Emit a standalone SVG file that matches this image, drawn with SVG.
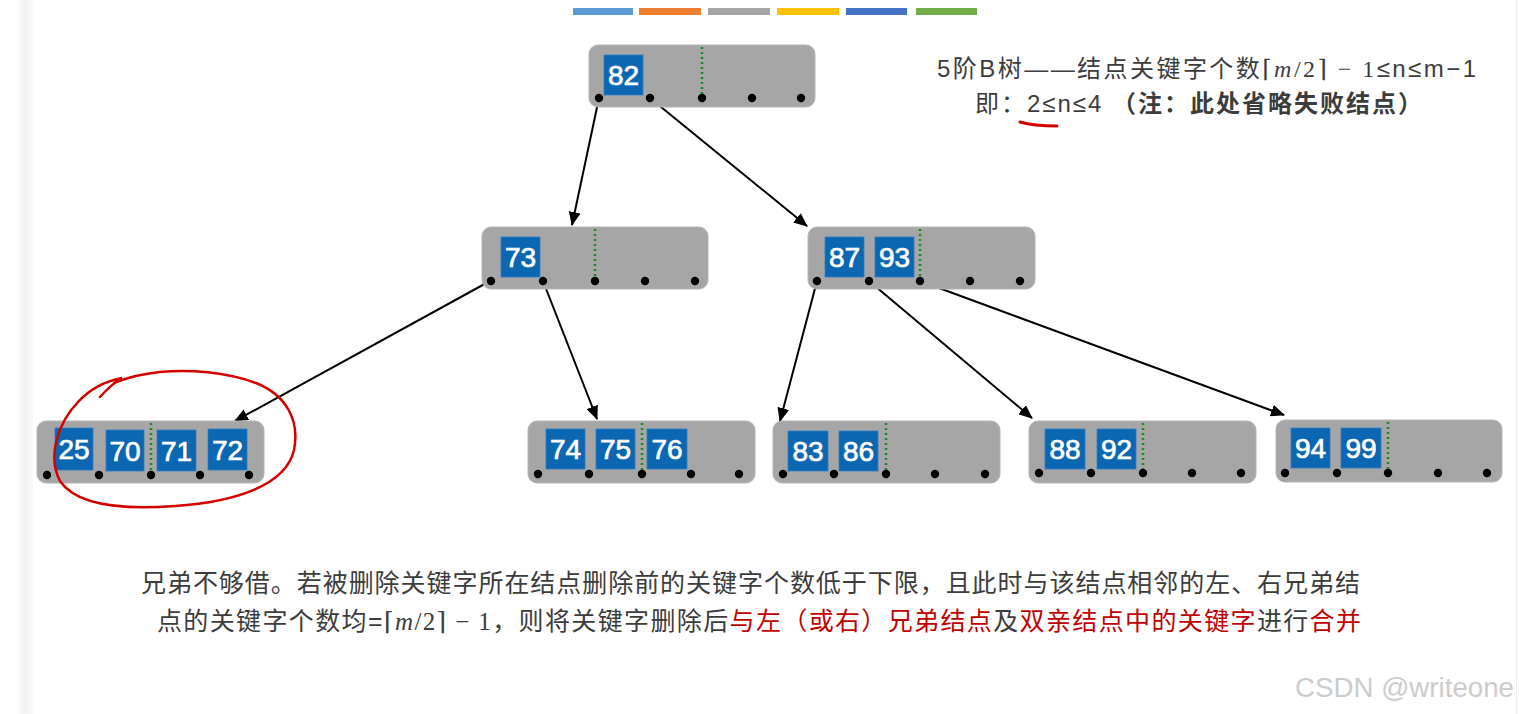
<svg xmlns="http://www.w3.org/2000/svg" width="1519" height="714" viewBox="0 0 1519 714">
<defs>
<linearGradient id="strip" x1="0" x2="1" y1="0" y2="0">
<stop offset="0" stop-color="#ffffff"/>
<stop offset="0.5" stop-color="#f3f3f3"/>
<stop offset="1" stop-color="#fafafa"/>
</linearGradient>
<marker id="ah" markerUnits="userSpaceOnUse" markerWidth="14" markerHeight="12" refX="13" refY="6" orient="auto">
<path d="M0,0 L14,6 L0,12 Z" fill="#000"/>
</marker>
</defs>
<style>
.node{fill:#a6a6a6;stroke:#b4b4b4;stroke-width:1}
.key{fill:#0b67b2;stroke:#2f80c8;stroke-width:0.8}
.kt{font-family:"Liberation Sans",Arial,sans-serif;font-size:28px;fill:#fff;text-anchor:middle;stroke:#fff;stroke-width:0.7}
.dot{fill:#000}
.mid{stroke:#1f8a1f;stroke-width:2.5;stroke-dasharray:2 3}
.edge{stroke:#000;stroke-width:2;fill:none;marker-end:url(#ah)}
.cn{font-family:"Liberation Sans","Noto Sans CJK SC",sans-serif;fill:#3c3c3c}
.math{font-family:"Liberation Serif","DejaVu Serif",serif}
.red{fill:#c00000}
</style>
<rect width="1519" height="714" fill="#fff"/>
<rect x="16" y="0" width="17" height="714" fill="url(#strip)"/>
<rect x="1516" y="0" width="1" height="714" fill="#ececec"/>
<g id="colorbar">
<rect x="573" y="8" width="60" height="7" fill="#5b9bd5"/>
<rect x="639" y="8" width="62" height="7" fill="#ed7d31"/>
<rect x="708" y="8" width="62" height="7" fill="#a5a5a5"/>
<rect x="777" y="8" width="62" height="7" fill="#ffc000"/>
<rect x="846" y="8" width="61" height="7" fill="#4472c4"/>
<rect x="916" y="8" width="61" height="7" fill="#70ad47"/>
</g>
<g id="connectors">
<line class="edge" x1="599" y1="98" x2="572" y2="225"/>
<line class="edge" x1="650" y1="98" x2="807" y2="226"/>
<line class="edge" x1="490" y1="281" x2="235" y2="421"/>
<line class="edge" x1="543" y1="281" x2="597" y2="419"/>
<line class="edge" x1="817" y1="281" x2="780" y2="421"/>
<line class="edge" x1="869" y1="281" x2="1032" y2="418"/>
<line class="edge" x1="920" y1="281" x2="1284" y2="415"/>
</g>
<g id="n82" transform="translate(589,45)">
<rect class="node" width="226" height="62" rx="9"/>
<rect class="key" x="15" y="10" width="39" height="40"/><text class="kt" x="34.5" y="40">82</text>
<line class="mid" x1="113" y1="2" x2="113" y2="50"/>
<circle class="dot" cx="10" cy="53" r="4.2"/><circle class="dot" cx="61" cy="53" r="4.2"/><circle class="dot" cx="113" cy="53" r="4.2"/><circle class="dot" cx="163" cy="53" r="4.2"/><circle class="dot" cx="212" cy="53" r="4.2"/>
</g>
<g id="n73" transform="translate(482,227)">
<rect class="node" width="226" height="62" rx="9"/>
<rect class="key" x="19" y="10" width="39" height="40"/><text class="kt" x="38.5" y="40">73</text>
<line class="mid" x1="113" y1="2" x2="113" y2="50"/>
<circle class="dot" cx="9" cy="54" r="4.2"/><circle class="dot" cx="61" cy="54" r="4.2"/><circle class="dot" cx="113" cy="54" r="4.2"/><circle class="dot" cx="163" cy="54" r="4.2"/><circle class="dot" cx="213" cy="54" r="4.2"/>
</g>
<g id="n87_93" transform="translate(808,227)">
<rect class="node" width="227" height="62" rx="9"/>
<rect class="key" x="17" y="10" width="39" height="40"/><text class="kt" x="36.5" y="40">87</text>
<rect class="key" x="67" y="10" width="39" height="40"/><text class="kt" x="86.5" y="40">93</text>
<line class="mid" x1="112" y1="2" x2="112" y2="50"/>
<circle class="dot" cx="9" cy="54" r="4.2"/><circle class="dot" cx="61" cy="54" r="4.2"/><circle class="dot" cx="112" cy="54" r="4.2"/><circle class="dot" cx="162" cy="54" r="4.2"/><circle class="dot" cx="212" cy="54" r="4.2"/>
</g>
<g id="n25_72" transform="translate(37,421)">
<rect class="node" width="227" height="62" rx="9"/>
<rect class="key" x="18" y="7" width="38" height="42"/><text class="kt" x="37" y="38">25</text>
<rect class="key" x="69" y="9" width="38" height="41"/><text class="kt" x="88" y="40">70</text>
<rect class="key" x="120" y="9" width="39" height="41"/><text class="kt" x="139.5" y="40">71</text>
<rect class="key" x="171" y="8" width="39" height="41"/><text class="kt" x="190.5" y="39">72</text>
<line class="mid" x1="114" y1="2" x2="114" y2="50"/>
<circle class="dot" cx="10" cy="54" r="4.2"/><circle class="dot" cx="62" cy="54" r="4.2"/><circle class="dot" cx="114" cy="54" r="4.2"/><circle class="dot" cx="163" cy="54" r="4.2"/><circle class="dot" cx="212" cy="54" r="4.2"/>
</g>
<g id="n74_76" transform="translate(528,421)">
<rect class="node" width="227" height="62" rx="9"/>
<rect class="key" x="18" y="8" width="39" height="40"/><text class="kt" x="37.5" y="38">74</text>
<rect class="key" x="68" y="8" width="39" height="40"/><text class="kt" x="87.5" y="38">75</text>
<rect class="key" x="119" y="8" width="40" height="40"/><text class="kt" x="139" y="38">76</text>
<line class="mid" x1="114" y1="2" x2="114" y2="50"/>
<circle class="dot" cx="10" cy="53" r="4.2"/><circle class="dot" cx="61" cy="53" r="4.2"/><circle class="dot" cx="114" cy="53" r="4.2"/><circle class="dot" cx="163" cy="53" r="4.2"/><circle class="dot" cx="211" cy="53" r="4.2"/>
</g>
<g id="n83_86" transform="translate(773,421)">
<rect class="node" width="227" height="62" rx="9"/>
<rect class="key" x="15" y="10" width="40" height="40"/><text class="kt" x="35" y="40">83</text>
<rect class="key" x="66" y="10" width="39" height="40"/><text class="kt" x="85.5" y="40">86</text>
<line class="mid" x1="113" y1="2" x2="113" y2="50"/>
<circle class="dot" cx="10" cy="53" r="4.2"/><circle class="dot" cx="61" cy="53" r="4.2"/><circle class="dot" cx="113" cy="53" r="4.2"/><circle class="dot" cx="162" cy="53" r="4.2"/><circle class="dot" cx="212" cy="53" r="4.2"/>
</g>
<g id="n88_92" transform="translate(1029,421)">
<rect class="node" width="227" height="62" rx="9"/>
<rect class="key" x="16" y="8" width="40" height="40"/><text class="kt" x="36" y="38">88</text>
<rect class="key" x="68" y="8" width="39" height="40"/><text class="kt" x="87.5" y="38">92</text>
<line class="mid" x1="114" y1="2" x2="114" y2="50"/>
<circle class="dot" cx="10" cy="52" r="4.2"/><circle class="dot" cx="62" cy="52" r="4.2"/><circle class="dot" cx="114" cy="52" r="4.2"/><circle class="dot" cx="163" cy="52" r="4.2"/><circle class="dot" cx="212" cy="52" r="4.2"/>
</g>
<g id="n94_99" transform="translate(1276,420)">
<rect class="node" width="226" height="62" rx="9"/>
<rect class="key" x="15" y="8" width="39" height="40"/><text class="kt" x="34.5" y="38">94</text>
<rect class="key" x="65" y="8" width="40" height="40"/><text class="kt" x="85" y="38">99</text>
<line class="mid" x1="112" y1="2" x2="112" y2="50"/>
<circle class="dot" cx="9" cy="53" r="4.2"/><circle class="dot" cx="61" cy="53" r="4.2"/><circle class="dot" cx="112" cy="53" r="4.2"/><circle class="dot" cx="162" cy="53" r="4.2"/><circle class="dot" cx="211" cy="53" r="4.2"/>
</g>
<g id="annotations">
<path d="M100,397 C108,388 115,382 122,378 C106,381 90,389 78,402 C58,423 47,456 60,481 C76,505 122,510 175,506 C236,502 286,485 294,450 C300,420 286,395 256,383 C226,372 190,369 160,372 C140,374 126,378 114,383" fill="none" stroke="#d40000" stroke-width="2.5" stroke-linecap="round"/>
<path d="M1020,122 C1030,125 1045,126 1057,126" fill="none" stroke="#d40000" stroke-width="3" stroke-linecap="round"/>
</g>
<g id="texts">
<text class="cn" x="937" y="77" font-size="24" textLength="539" lengthAdjust="spacing">5阶B树——结点关键字个数<tspan class="math">⌈<tspan font-style="italic">m</tspan>/2⌉ − 1</tspan>≤n≤m−1</text>
<text class="cn" x="975" y="112" font-size="24" textLength="447" lengthAdjust="spacing">即：2≤n≤4 <tspan font-weight="bold">（注：此处省略失败结点）</tspan></text>
<text class="cn" x="141" y="592" font-size="25" textLength="1219" lengthAdjust="spacing">兄弟不够借。若被删除关键字所在结点删除前的关键字个数低于下限，且此时与该结点相邻的左、右兄弟结</text>
<text class="cn" x="157" y="630" font-size="25" textLength="1204" lengthAdjust="spacing">点的关键字个数均=<tspan class="math">⌈<tspan font-style="italic">m</tspan>/2⌉ − 1</tspan>，则将关键字删除后<tspan class="red">与左（或右）兄弟结点</tspan>及<tspan class="red">双亲结点中的关键字</tspan>进行<tspan class="red">合并</tspan></text>
<text x="1295" y="697" font-family="Liberation Sans,Arial,sans-serif" font-size="27" fill="#cccccc" textLength="219" lengthAdjust="spacingAndGlyphs">CSDN @writeone</text>
</g>
</svg>
